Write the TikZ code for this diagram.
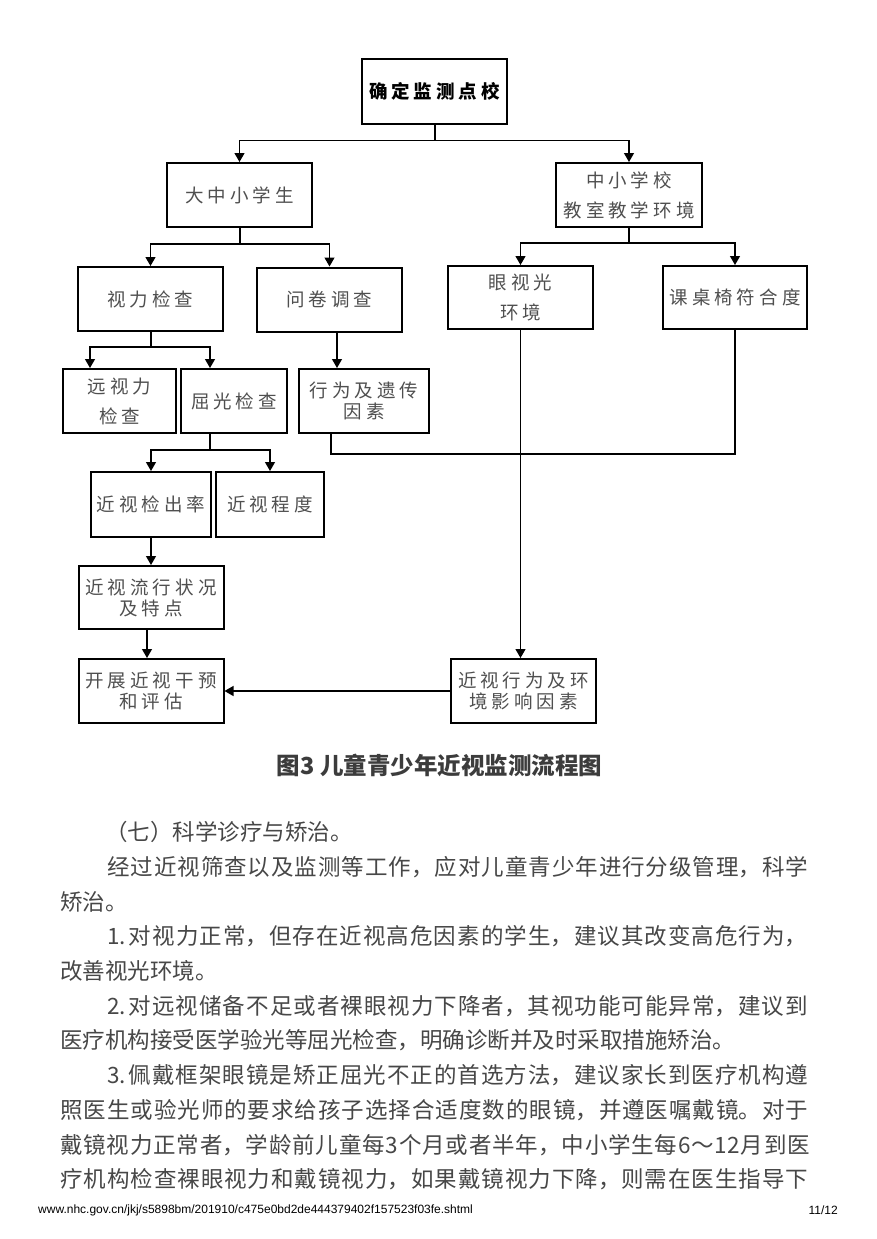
\documentclass[tikz,border=0pt]{standalone}
\usepackage{fontspec}
\usetikzlibrary{arrows.meta}
\newfontfamily\cjk{Noto Sans CJK SC}
\newfontfamily\urlfont{Liberation Sans}
\XeTeXlinebreaklocale "zh"
\setlength\parindent{0pt}
\definecolor{boxtext}{HTML}{4F4F4F}
\definecolor{bodytext}{HTML}{474747}
\definecolor{captext}{HTML}{3C3C3C}

% letter spacing for the box labels
\newlength\spacedgap
\setlength\spacedgap{4pt}
\makeatletter
\def\spaced#1{\spaced@#1\spaced@end}
\def\spaced@#1#2\spaced@end{#1\ifx\relax#2\relax\else\hskip\spacedgap\spaced@#2\spaced@end\fi}
\makeatother

\newcommand\boxfont{\cjk\fontsize{18.5}{30}\selectfont}
\newcommand\boxfonttight{\cjk\fontsize{18.5}{21}\selectfont}
\newcommand\bodyfont{\cjk\fontsize{22.5}{27}\selectfont\XeTeXlinebreakskip=0pt plus 4pt\relax}
\newcommand\fullpar{\parfillskip=0pt\relax}

\begin{document}
\begin{tikzpicture}[x=1pt, y=-1pt,
  box/.style={draw, line width=2pt, inner sep=0pt, align=center, text=boxtext,
    font=\boxfont, minimum width=145pt, minimum height=64pt},
  tight/.style={font=\boxfonttight},
  stem/.style={line width=2pt},
  link/.style={line width=1.2pt},
  arr/.style={link, -{Triangle[width=10pt,length=9pt]}},
  txt/.style={anchor=west, inner sep=0pt, text width=759pt, text=bodytext, font=\bodyfont},
  full/.style={txt, execute at begin node=\fullpar}]

\useasboundingbox (0,0) rectangle (876,1239);
\fill[white] (0,0) rectangle (876,1239);

% ==== Flow chart ====
\node[box, text=black, font=\cjk\bfseries\fontsize{18.5}{22}\selectfont] (site) at (434.5,91.5) {\spaced{确定监测点校}};

% Second row
\node[box] (pupils) at (239.5,195) {\spaced{大中小学生}};
\node[box, minimum width=146pt] (school) at (629,195) {\spaced{中小学校}\\\spaced{教室教学环境}};

% Third row
\node[box] (vision) at (150.5,299) {\spaced{视力检查}};
\node[box] (survey) at (329.5,299.5) {\spaced{问卷调查}};
\node[box, minimum height=63pt] (light) at (520.5,297.5) {\spaced{眼视光}\\\spaced{环境}};
\node[box, minimum width=144pt, minimum height=63pt] (desk) at (735,297.5) {\spaced{课桌椅符合度}};

% Fourth row
\node[box, minimum width=113pt] (far) at (119.5,401) {\spaced{远视力}\\\spaced{检查}};
\node[box, minimum width=106pt] (refract) at (234,401) {\spaced{屈光检查}};
\node[box, tight, minimum width=130pt] (habit) at (364,401) {\spaced{行为及遗传}\\\spaced{因素}};

% Fifth row
\node[box, minimum width=120pt, minimum height=65pt] (rate) at (151,504.5) {\spaced{近视检出率}};
\node[box, minimum width=108pt, minimum height=65pt] (degree) at (270,504.5) {\spaced{近视程度}};

% Lower boxes
\node[box, tight, minimum height=63pt] (status) at (151,597.5) {\spaced{近视流行状况}\\\spaced{及特点}};
\node[box, tight] (action) at (151,691) {\spaced{开展近视干预}\\\spaced{和评估}};
\node[box, tight] (factor) at (523.5,691) {\spaced{近视行为及环}\\\spaced{境影响因素}};

% Connectors
\coordinate (j1) at ([yshift=-16pt]site.south);
\draw[stem] (site.south) -- (j1);
\draw[arr] (j1) -| (pupils.north);
\draw[arr] (j1) -| (school.north);

\coordinate (j2) at ([yshift=-16pt]pupils.south);
\draw[stem] (pupils.south) -- (j2);
\draw[arr] (j2) -| (vision.north);
\draw[arr] (j2) -| (survey.north);

\coordinate (j3) at ([yshift=-15pt]school.south);
\draw[stem] (school.south) -- (j3);
\draw[arr] (j3) -| (light.north);
\draw[arr] (j3) -| (desk.north);

\coordinate (j4) at ([yshift=-15pt]vision.south);
\draw[stem] (vision.south) -- (j4);
\draw[arr] (j4) -| ([xshift=-29.5pt]far.north);
\draw[arr] (j4) -| ([xshift=-24pt]refract.north);

\coordinate (j5) at ([xshift=-24pt,yshift=-16pt]refract.south);
\draw[stem] ([xshift=-24pt]refract.south) -- (j5);
\draw[arr] (j5) -| (rate.north);
\draw[arr] (j5) -| (degree.north);

\draw[arr] ([xshift=7.5pt]survey.south) -- ([xshift=7.5pt]survey.south |- habit.north);
\draw[arr] (rate.south) -- (status.north);
\draw[arr] ([xshift=-4pt]status.south) -- ([xshift=-4pt]status.south |- action.north);
\draw[arr] (light.south) -- (light.south |- factor.north);

\coordinate (merge) at ([xshift=-33pt,yshift=-20pt]habit.south);
\draw[link] ([xshift=-33pt]habit.south) -- (merge) -| (desk.south);
\draw[arr] (factor.west) -- (action.east);

% Caption
\node[font=\cjk\bfseries\fontsize{23.5}{27}\selectfont, text=captext] (caption) at (439.5,765) {图3 儿童青少年近视监测流程图};

% ==== Text below ====
\node[txt] (p1) at (60,832) {\hspace*{45pt}（七）科学诊疗与矫治。};
\node[full] (p2) at (60,866.75) {\hspace*{47pt}经过近视筛查以及监测等工作，应对儿童青少年进行分级管理，科学};
\node[txt] (p3) at (60,901.5) {矫治。};
\node[full] (p4) at (60,936.25) {\hspace*{47pt}1.\hspace{3pt}对视力正常，但存在近视高危因素的学生，建议其改变高危行为，};
\node[txt] (p5) at (60,971) {改善视光环境。};
\node[full] (p6) at (60,1005.75) {\hspace*{47pt}2.\hspace{3pt}对远视储备不足或者裸眼视力下降者，其视功能可能异常，建议到};
\node[txt] (p7) at (60,1040.5) {医疗机构接受医学验光等屈光检查，明确诊断并及时采取措施矫治。};
\node[full] (p8) at (60,1075.25) {\hspace*{47pt}3.\hspace{3pt}佩戴框架眼镜是矫正屈光不正的首选方法，建议家长到医疗机构遵};
\node[full] (p9) at (60,1110) {照医生或验光师的要求给孩子选择合适度数的眼镜，并遵医嘱戴镜。对于};
\node[full] (p10) at (60,1144.75) {戴镜视力正常者，学龄前儿童每3个月或者半年，中小学生每6～12月到医};
\node[full] (p11) at (60,1179.5) {疗机构检查裸眼视力和戴镜视力，如果戴镜视力下降，则需在医生指导下};

% Footer
\node[font=\urlfont\fontsize{12}{14}\selectfont, anchor=west, inner sep=0pt] (url) at (38,1210) {www.nhc.gov.cn/jkj/s5898bm/201910/c475e0bd2de444379402f157523f03fe.shtml};
\node[font=\urlfont\fontsize{12}{14}\selectfont, anchor=east, inner sep=0pt] (page) at (838,1210) {11/12};

\end{tikzpicture}
\end{document}
